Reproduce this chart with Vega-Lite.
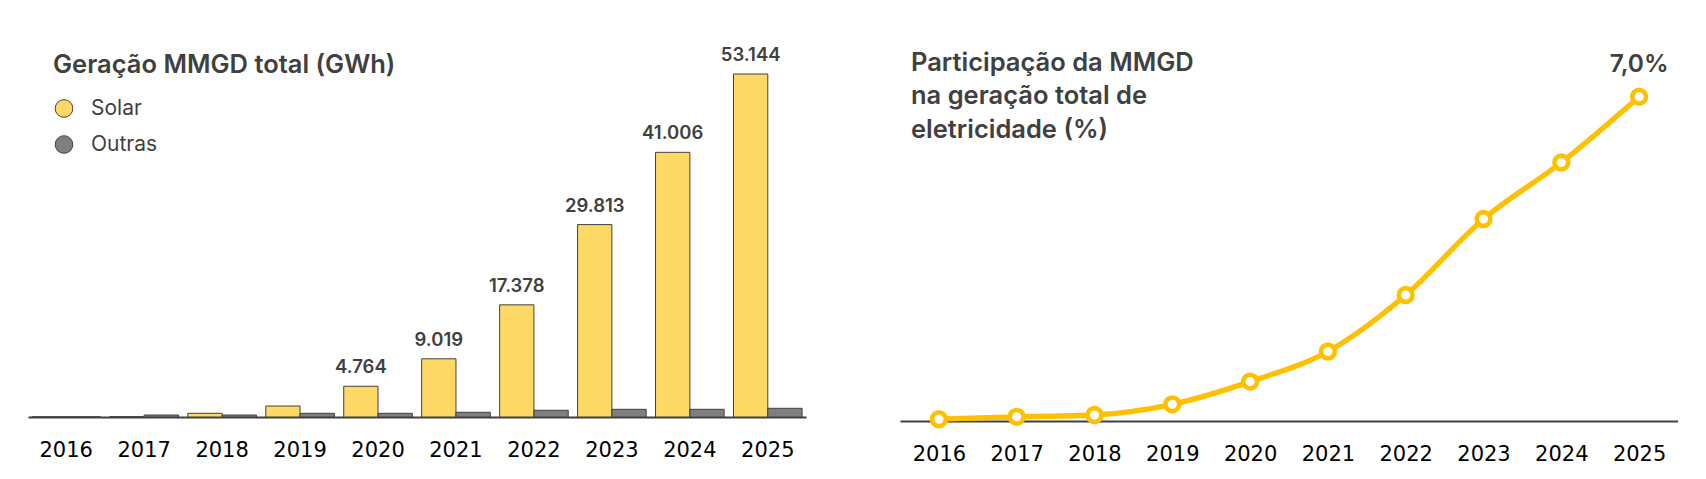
{
  "$schema": "https://vega.github.io/schema/vega-lite/v6.json",
  "padding": {"left": 28, "top": 20, "right": 0, "bottom": 0},
  "background": "white",
  "spacing": 94,
  "bounds": "flush",
  "config": {
    "view": {"stroke": null, "fill": "white"},
    "font": "Inter",
    "axis": {
      "domainColor": "#404040",
      "domainWidth": 2,
      "ticks": false,
      "tickSize": 0,
      "grid": false,
      "labelFont": "DejaVu Sans",
      "labelFontSize": 21,
      "labelColor": "#000000",
      "labelPadding": 39,
      "labelBaseline": "alphabetic",
      "labelAngle": 0,
      "title": null
    }
  },
  "hconcat": [
    {
      "width": 778,
      "height": 397,
      "title": {
        "text": "Geração MMGD total (GWh)",
        "anchor": "start",
        "frame": "group",
        "orient": "top",
        "offset": -78.5,
        "baseline": "alphabetic",
        "dx": 25,
        "fontSize": 25.5,
        "fontWeight": 600,
        "color": "#404040",
        "font": "Inter"
      },
      "data": {
        "values": [
          {"ano": 2016, "tipo": "Solar", "valor": 30},
          {"ano": 2016, "tipo": "Outras", "valor": 20},
          {"ano": 2017, "tipo": "Solar", "valor": 60},
          {"ano": 2017, "tipo": "Outras", "valor": 310},
          {"ano": 2018, "tipo": "Solar", "valor": 570},
          {"ano": 2018, "tipo": "Outras", "valor": 310},
          {"ano": 2019, "tipo": "Solar", "valor": 1700},
          {"ano": 2019, "tipo": "Outras", "valor": 570},
          {"ano": 2020, "tipo": "Solar", "valor": 4764, "rotulo": "4.764"},
          {"ano": 2020, "tipo": "Outras", "valor": 570},
          {"ano": 2021, "tipo": "Solar", "valor": 9019, "rotulo": "9.019"},
          {"ano": 2021, "tipo": "Outras", "valor": 730},
          {"ano": 2022, "tipo": "Solar", "valor": 17378, "rotulo": "17.378"},
          {"ano": 2022, "tipo": "Outras", "valor": 1040},
          {"ano": 2023, "tipo": "Solar", "valor": 29813, "rotulo": "29.813"},
          {"ano": 2023, "tipo": "Outras", "valor": 1190},
          {"ano": 2024, "tipo": "Solar", "valor": 41006, "rotulo": "41.006"},
          {"ano": 2024, "tipo": "Outras", "valor": 1190},
          {"ano": 2025, "tipo": "Solar", "valor": 53144, "rotulo": "53.144"},
          {"ano": 2025, "tipo": "Outras", "valor": 1350}
        ]
      },
      "encoding": {
        "x": {"field": "ano", "type": "ordinal", "scale": {"type": "band", "paddingInner": 0.12, "paddingOuter": 0.05}},
        "xOffset": {"field": "tipo", "type": "nominal", "scale": {"domain": ["Solar", "Outras"], "paddingInner": 0, "paddingOuter": 0}},
        "y": {"field": "valor", "type": "quantitative", "scale": {"domain": [0, 61511]}, "axis": null}
      },
      "layer": [
        {
          "mark": {"type": "bar", "stroke": "#404040", "strokeWidth": 1},
          "encoding": {
            "color": {
              "field": "tipo",
              "type": "nominal",
              "scale": {"domain": ["Solar", "Outras"], "range": ["#FFD966", "#7F7F7F"]},
              "legend": {
                "title": null,
                "orient": "none",
                "legendX": 25.5,
                "legendY": 78,
                "padding": 0,
                "symbolType": "circle",
                "symbolSize": 310,
                "symbolStrokeColor": "#404040",
                "symbolStrokeWidth": 1,
                "labelFont": "Inter",
                "labelFontSize": 21,
                "labelColor": "#404040",
                "labelOffset": 16.5,
                "rowPadding": 13
              }
            }
          }
        },
        {
          "transform": [{"filter": "datum.rotulo != null"}],
          "mark": {"type": "text", "baseline": "alphabetic", "dy": -13, "fontSize": 18.5, "fontWeight": 600, "color": "#404040", "font": "Inter"},
          "encoding": {"text": {"field": "rotulo"}}
        }
      ]
    },
    {
      "width": 778,
      "height": 401,
      "title": {
        "text": ["Participação da MMGD", "na geração total de", "eletricidade (%)"],
        "anchor": "start",
        "frame": "group",
        "orient": "top",
        "offset": -143.2,
        "baseline": "alphabetic",
        "dx": 11,
        "lineHeight": 33.5,
        "fontSize": 25.5,
        "fontWeight": 600,
        "color": "#404040",
        "font": "Inter"
      },
      "data": {
        "values": [
          {"ano": 2016, "pct": 0.04},
          {"ano": 2017, "pct": 0.09},
          {"ano": 2018, "pct": 0.13},
          {"ano": 2019, "pct": 0.36},
          {"ano": 2020, "pct": 0.85},
          {"ano": 2021, "pct": 1.5},
          {"ano": 2022, "pct": 2.72},
          {"ano": 2023, "pct": 4.36},
          {"ano": 2024, "pct": 5.58},
          {"ano": 2025, "pct": 7.0, "rotulo": "7,0%"}
        ]
      },
      "encoding": {
        "x": {"field": "ano", "type": "ordinal", "scale": {"type": "point", "padding": 0.5}},
        "y": {"field": "pct", "type": "quantitative", "scale": {"domain": [0, 8.656]}, "axis": null}
      },
      "layer": [
        {"mark": {"type": "line", "interpolate": "monotone", "stroke": "#FFC000", "strokeWidth": 5.3}},
        {"mark": {"type": "point", "filled": true, "fill": "#FFFFFF", "stroke": "#FFC000", "strokeWidth": 4.6, "size": 190, "opacity": 1}},
        {
          "transform": [{"filter": "datum.rotulo != null"}],
          "mark": {"type": "text", "baseline": "alphabetic", "dy": -24.5, "fontSize": 24.5, "fontWeight": 600, "color": "#404040", "font": "Inter"},
          "encoding": {"text": {"field": "rotulo"}}
        }
      ]
    }
  ]
}
